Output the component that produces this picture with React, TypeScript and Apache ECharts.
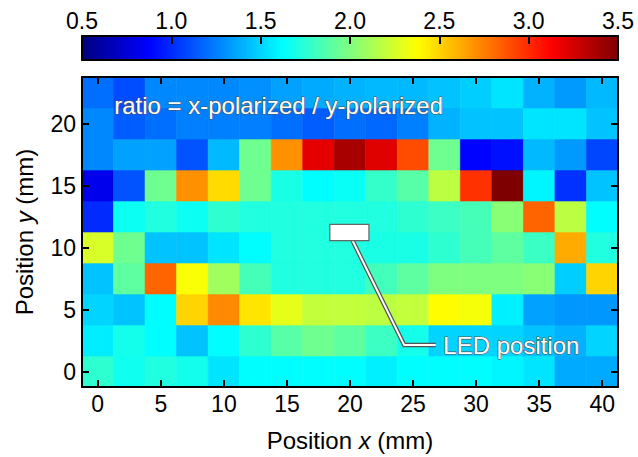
import React, { useEffect, useRef } from "react";
import * as echarts from "echarts";

// cell centres (mm)
const xPositions = [0, 2.5, 5, 7.5, 10, 12.5, 15, 17.5, 20, 22.5, 25, 27.5, 30, 32.5, 35, 37.5, 40];
const yPositions = [0, 2.5, 5, 7.5, 10, 12.5, 15, 17.5, 20, 22.5];

// ratio = x-polarized / y-polarized, one array per row (x = 0 … 40 mm)
const ratioAtY0 = [1.76, 1.67, 1.72, 1.68, 1.55, 1.62, 1.62, 1.62, 1.62, 1.58, 1.62, 1.62, 1.62, 1.6, 1.55, 1.38, 1.38];
const ratioAtY2_5 = [1.57, 1.68, 1.62, 1.45, 1.62, 1.76, 1.88, 1.95, 1.9, 1.8, 1.68, 1.5, 1.5, 1.5, 1.45, 1.4, 1.5];
const ratioAtY5 = [1.5, 1.45, 1.62, 2.5, 2.72, 2.45, 2.3, 2.2, 2.2, 2.18, 2.2, 2.38, 2.35, 1.58, 1.35, 1.32, 1.32];
const ratioAtY7_5 = [1.45, 1.9, 2.83, 2.36, 2.1, 1.83, 1.72, 1.72, 1.72, 1.82, 1.9, 2.0, 2.0, 2.0, 2.03, 1.48, 2.5];
const ratioAtY10 = [2.26, 1.95, 1.45, 1.45, 1.55, 1.62, 1.72, 1.72, 1.72, 1.7, 1.7, 1.76, 1.83, 1.9, 1.8, 2.62, 1.72];
const ratioAtY12_5 = [1.0, 1.66, 1.72, 1.66, 1.76, 1.72, 1.72, 1.72, 1.72, 1.72, 1.76, 1.8, 1.83, 2.03, 2.83, 2.18, 1.62];
const ratioAtY15 = [0.82, 1.12, 1.95, 2.7, 2.48, 1.95, 1.7, 1.62, 1.65, 1.78, 1.88, 2.18, 2.98, 3.5, 1.6, 1.02, 1.45];
const ratioAtY17_5 = [1.28, 1.35, 1.35, 1.12, 1.42, 1.95, 2.7, 3.2, 3.38, 3.22, 2.9, 1.95, 0.88, 0.92, 1.42, 1.33, 1.08];
const ratioAtY20 = [1.28, 1.15, 1.2, 1.25, 1.25, 1.25, 1.2, 1.15, 1.2, 1.18, 1.25, 1.4, 1.45, 1.45, 1.55, 1.55, 1.45];
const ratioAtY22_5 = [1.2, 1.1, 1.28, 1.28, 1.28, 1.3, 1.35, 1.38, 1.4, 1.42, 1.42, 1.45, 1.48, 1.55, 1.4, 1.33, 1.42];

const ratioRows = [
  ratioAtY0, ratioAtY2_5, ratioAtY5, ratioAtY7_5, ratioAtY10,
  ratioAtY12_5, ratioAtY15, ratioAtY17_5, ratioAtY20, ratioAtY22_5,
];

const xTickValues = [0, 5, 10, 15, 20, 25, 30, 35, 40];
const yTickValues = [0, 5, 10, 15, 20];

const ratioMin = 0.5;
const ratioMax = 3.5;
const ratioTickStep = 0.5;

const jetColors = ["#00007f", "#0000ff", "#007fff", "#00ffff", "#7fff7f", "#ffff00", "#ff7f00", "#ff0000", "#7f0000"];

// annotation anchors (data units, mm)
const cellHalf = 1.25;
const ledBox = { x0: 18.4, x1: 21.5, y0: 10.56, y1: 11.86 };
const leaderLine = [[20.2, 10.56], [24.3, 2.13], [26.8, 2.13]];
const ledLabelAnchor = [27.4, 2.1];
const ratioLabelAnchor = [1.3, 21.45];

const FONT = '"Liberation Sans", Arial, Helvetica, sans-serif';

export default function App() {
  const ref = useRef<HTMLDivElement>(null);

  useEffect(() => {
    if (!ref.current) return;
    const chart = echarts.init(ref.current, undefined, { renderer: "svg" });

    const cells: number[][] = [];
    ratioRows.forEach((row, yi) => {
      row.forEach((v, xi) => cells.push([xPositions[xi], yPositions[yi], v]));
    });

    const boxAxisLine = { show: true, onZero: false, lineStyle: { color: "#000", width: 2 } };
    const insideTicks = (vals: number[]) => ({
      show: true,
      inside: true,
      length: 7,
      customValues: vals,
      lineStyle: { color: "#000", width: 2 },
    });
    const titleStyle = {
      fontSize: 24,
      color: "#000",
      fontFamily: FONT,
      rich: { i: { fontStyle: "italic", fontSize: 24, color: "#000", fontFamily: FONT } },
    };

    const option: any = {
      animation: false,
      backgroundColor: "#fff",
      grid: [
        { left: 82, right: 20, top: 77, bottom: 65 },
        { left: 82, right: 20, top: 36, height: 24 },
      ],
      visualMap: {
        type: "continuous",
        seriesIndex: 0,
        dimension: 2,
        min: ratioMin,
        max: ratioMax,
        orient: "horizontal",
        left: 82,
        top: 36,
        itemWidth: 24,
        itemHeight: 536,
        padding: 0,
        calculable: false,
        hoverLink: false,
        inRange: { color: jetColors },
        textStyle: { color: "transparent" },
        z: 2,
      },
      xAxis: [
        {
          type: "value",
          gridIndex: 0,
          position: "bottom",
          min: -cellHalf,
          max: xPositions[xPositions.length - 1] + cellHalf,
          axisLine: boxAxisLine,
          axisTick: insideTicks(xTickValues),
          axisLabel: { customValues: xTickValues, fontSize: 23, color: "#000", fontFamily: FONT, margin: 5 },
          splitLine: { show: false },
          name: "Position {i|x} (mm)",
          nameLocation: "middle",
          nameGap: 41,
          nameTextStyle: titleStyle,
          z: 10,
        },
        {
          type: "value",
          gridIndex: 0,
          position: "top",
          min: -cellHalf,
          max: xPositions[xPositions.length - 1] + cellHalf,
          axisLine: boxAxisLine,
          axisTick: insideTicks(xTickValues),
          axisLabel: { show: false },
          splitLine: { show: false },
          z: 10,
        },
        {
          type: "value",
          gridIndex: 1,
          position: "top",
          min: ratioMin,
          max: ratioMax,
          interval: ratioTickStep,
          axisLine: boxAxisLine,
          axisTick: { show: true, inside: true, length: 8, lineStyle: { color: "#000", width: 2 } },
          axisLabel: {
            fontSize: 23,
            color: "#000",
            fontFamily: FONT,
            margin: 4,
            formatter: (v: number) => v.toFixed(1),
          },
          splitLine: { show: false },
          z: 10,
        },
        {
          type: "value",
          gridIndex: 1,
          position: "bottom",
          min: ratioMin,
          max: ratioMax,
          axisLine: boxAxisLine,
          axisTick: { show: false },
          axisLabel: { show: false },
          splitLine: { show: false },
          z: 10,
        },
      ],
      yAxis: [
        {
          type: "value",
          gridIndex: 0,
          position: "left",
          min: -cellHalf,
          max: yPositions[yPositions.length - 1] + cellHalf,
          axisLine: boxAxisLine,
          axisTick: insideTicks(yTickValues),
          axisLabel: { customValues: yTickValues, fontSize: 23, color: "#000", fontFamily: FONT, margin: 6 },
          splitLine: { show: false },
          name: "Position {i|y} (mm)",
          nameLocation: "middle",
          nameGap: 46,
          nameTextStyle: titleStyle,
          z: 10,
        },
        {
          type: "value",
          gridIndex: 0,
          position: "right",
          min: -cellHalf,
          max: yPositions[yPositions.length - 1] + cellHalf,
          axisLine: boxAxisLine,
          axisTick: insideTicks(yTickValues),
          axisLabel: { show: false },
          splitLine: { show: false },
          z: 10,
        },
        {
          type: "value",
          gridIndex: 1,
          position: "left",
          min: 0,
          max: 1,
          axisLine: boxAxisLine,
          axisTick: { show: false },
          axisLabel: { show: false },
          splitLine: { show: false },
          z: 10,
        },
        {
          type: "value",
          gridIndex: 1,
          position: "right",
          min: 0,
          max: 1,
          axisLine: boxAxisLine,
          axisTick: { show: false },
          axisLabel: { show: false },
          splitLine: { show: false },
          z: 10,
        },
      ],
      series: [
        {
          type: "custom",
          name: "ratio",
          xAxisIndex: 0,
          yAxisIndex: 0,
          dimensions: ["x", "y", "ratio"],
          encode: { x: 0, y: 1 },
          data: cells,
          silent: true,
          z: 2,
          renderItem: (params: any, api: any) => {
            const x = api.value(0);
            const y = api.value(1);
            const p0 = api.coord([x - cellHalf, y + cellHalf]);
            const p1 = api.coord([x + cellHalf, y - cellHalf]);
            const color = api.visual("color");
            return {
              type: "rect",
              shape: { x: p0[0], y: p0[1], width: p1[0] - p0[0], height: p1[1] - p0[1] },
              style: { fill: color, stroke: color, lineWidth: 0.6 },
            };
          },
        },
        {
          type: "custom",
          name: "annotations",
          xAxisIndex: 0,
          yAxisIndex: 0,
          data: [[ledBox.x0, ledBox.y0]],
          silent: true,
          z: 5,
          renderItem: (params: any, api: any) => {
            const b0 = api.coord([ledBox.x0, ledBox.y1]);
            const b1 = api.coord([ledBox.x1, ledBox.y0]);
            const pts = leaderLine.map((p) => api.coord(p));
            const ledPt = api.coord(ledLabelAnchor);
            const ratioPt = api.coord(ratioLabelAnchor);
            return {
              type: "group",
              children: [
                { type: "polyline", shape: { points: pts }, style: { fill: "none", stroke: "#555", lineWidth: 4.5 } },
                { type: "polyline", shape: { points: pts }, style: { fill: "none", stroke: "#fff", lineWidth: 2 } },
                {
                  type: "rect",
                  shape: { x: b0[0], y: b0[1], width: b1[0] - b0[0], height: b1[1] - b0[1] },
                  style: { fill: "#fff", stroke: "#666", lineWidth: 1.2 },
                },
                {
                  type: "text",
                  x: ledPt[0],
                  y: ledPt[1],
                  style: {
                    text: "LED position",
                    fill: "#fff",
                    stroke: "#555",
                    lineWidth: 1.2,
                    fontSize: 24,
                    fontFamily: FONT,
                    align: "left",
                    verticalAlign: "middle",
                  },
                },
                {
                  type: "text",
                  x: ratioPt[0],
                  y: ratioPt[1],
                  style: {
                    text: "ratio = x-polarized / y-polarized",
                    fill: "#fff",
                    stroke: "#555",
                    lineWidth: 1.2,
                    fontSize: 24,
                    fontFamily: FONT,
                    align: "left",
                    verticalAlign: "middle",
                  },
                },
              ],
            };
          },
        },
      ],
    };

    chart.setOption(option);
    return () => chart.dispose();
  }, []);

  return (
    <div
      ref={ref}
      style={{ position: "fixed", left: 0, top: 0, width: 638, height: 457, background: "#fff" }}
    />
  );
}
